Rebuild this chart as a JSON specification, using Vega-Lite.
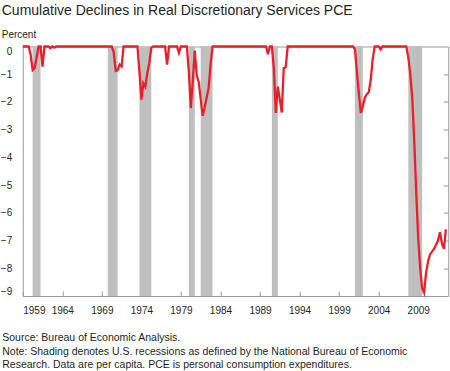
{
  "$schema": "https://vega.github.io/schema/vega-lite/v6.json",
  "autosize": "none",
  "width": 425.5,
  "height": 249.5,
  "padding": {"left": 22.75, "top": 46.5, "right": 1.75, "bottom": 75},
  "background": "white",
  "config": {
    "font": "Liberation Sans",
    "view": {"stroke": "#999999", "strokeWidth": 1}
  },
  "title": {
    "text": "Cumulative Declines in Real Discretionary Services PCE",
    "subtitle": "Percent",
    "anchor": "start",
    "frame": "group",
    "dx": -21,
    "offset": 2,
    "fontSize": 14,
    "fontWeight": "normal",
    "color": "#231f20",
    "subtitleFontSize": 10,
    "subtitleColor": "#231f20",
    "subtitlePadding": 12
  },
  "datasets": {
    "rec": [
      {"s": 1960.25, "e": 1961.25},
      {"s": 1969.75, "e": 1971.0},
      {"s": 1973.75, "e": 1975.25},
      {"s": 1980.0, "e": 1980.75},
      {"s": 1981.5, "e": 1983.0},
      {"s": 1990.5, "e": 1991.25},
      {"s": 2001.0, "e": 2002.0},
      {"s": 2007.75, "e": 2009.5}
    ],
    "pce": [
      {"t": 1959.0, "v": 0}, {"t": 1959.25, "v": 0}, {"t": 1959.5, "v": 0}, {"t": 1959.75, "v": 0},
      {"t": 1960.0, "v": -0.3}, {"t": 1960.25, "v": -0.85}, {"t": 1960.5, "v": -0.78}, {"t": 1960.75, "v": -0.4},
      {"t": 1961.0, "v": 0}, {"t": 1961.25, "v": 0}, {"t": 1961.5, "v": -0.73}, {"t": 1961.75, "v": 0},
      {"t": 1962.0, "v": 0}, {"t": 1962.25, "v": 0}, {"t": 1962.5, "v": -0.06}, {"t": 1962.75, "v": 0},
      {"t": 1963.0, "v": -0.04}, {"t": 1963.25, "v": 0}, {"t": 1963.5, "v": 0}, {"t": 1963.75, "v": 0},
      {"t": 1964.0, "v": 0}, {"t": 1964.25, "v": 0}, {"t": 1964.5, "v": 0}, {"t": 1964.75, "v": 0},
      {"t": 1965.0, "v": 0}, {"t": 1965.25, "v": 0}, {"t": 1965.5, "v": 0}, {"t": 1965.75, "v": 0},
      {"t": 1966.0, "v": 0}, {"t": 1966.25, "v": 0}, {"t": 1966.5, "v": 0}, {"t": 1966.75, "v": 0},
      {"t": 1967.0, "v": 0}, {"t": 1967.25, "v": 0}, {"t": 1967.5, "v": 0}, {"t": 1967.75, "v": 0},
      {"t": 1968.0, "v": 0}, {"t": 1968.25, "v": 0}, {"t": 1968.5, "v": 0}, {"t": 1968.75, "v": 0},
      {"t": 1969.0, "v": 0}, {"t": 1969.25, "v": 0}, {"t": 1969.5, "v": 0}, {"t": 1969.75, "v": 0},
      {"t": 1970.0, "v": 0}, {"t": 1970.25, "v": 0}, {"t": 1970.5, "v": -0.2}, {"t": 1970.75, "v": -0.88},
      {"t": 1971.0, "v": -0.85}, {"t": 1971.25, "v": -0.65}, {"t": 1971.5, "v": -0.72}, {"t": 1971.75, "v": 0},
      {"t": 1972.0, "v": 0}, {"t": 1972.25, "v": 0}, {"t": 1972.5, "v": 0}, {"t": 1972.75, "v": 0},
      {"t": 1973.0, "v": 0}, {"t": 1973.25, "v": 0}, {"t": 1973.5, "v": 0}, {"t": 1973.75, "v": -0.9},
      {"t": 1974.0, "v": -1.92}, {"t": 1974.25, "v": -1.32}, {"t": 1974.5, "v": -1.45}, {"t": 1974.75, "v": -0.95},
      {"t": 1975.0, "v": -0.6}, {"t": 1975.25, "v": -0.05}, {"t": 1975.5, "v": 0}, {"t": 1975.75, "v": 0},
      {"t": 1976.0, "v": 0}, {"t": 1976.25, "v": 0}, {"t": 1976.5, "v": 0}, {"t": 1976.75, "v": 0},
      {"t": 1977.0, "v": 0}, {"t": 1977.25, "v": -0.65}, {"t": 1977.5, "v": 0}, {"t": 1977.75, "v": 0},
      {"t": 1978.0, "v": 0}, {"t": 1978.25, "v": 0}, {"t": 1978.5, "v": 0}, {"t": 1978.75, "v": -0.23},
      {"t": 1979.0, "v": 0}, {"t": 1979.25, "v": 0}, {"t": 1979.5, "v": 0}, {"t": 1979.75, "v": 0},
      {"t": 1980.0, "v": -0.9}, {"t": 1980.25, "v": -2.22}, {"t": 1980.5, "v": -1.25}, {"t": 1980.75, "v": -0.15},
      {"t": 1981.0, "v": -1.05}, {"t": 1981.25, "v": -1.28}, {"t": 1981.5, "v": -1.9}, {"t": 1981.75, "v": -2.5},
      {"t": 1982.0, "v": -2.2}, {"t": 1982.25, "v": -1.85}, {"t": 1982.5, "v": -1.5}, {"t": 1982.75, "v": -0.65},
      {"t": 1983.0, "v": 0}, {"t": 1983.25, "v": 0}, {"t": 1983.5, "v": 0}, {"t": 1983.75, "v": 0},
      {"t": 1984.0, "v": 0}, {"t": 1984.25, "v": 0}, {"t": 1984.5, "v": 0}, {"t": 1984.75, "v": 0},
      {"t": 1985.0, "v": 0}, {"t": 1985.25, "v": 0}, {"t": 1985.5, "v": 0}, {"t": 1985.75, "v": 0},
      {"t": 1986.0, "v": 0}, {"t": 1986.25, "v": 0}, {"t": 1986.5, "v": 0}, {"t": 1986.75, "v": 0},
      {"t": 1987.0, "v": 0}, {"t": 1987.25, "v": 0}, {"t": 1987.5, "v": 0}, {"t": 1987.75, "v": 0},
      {"t": 1988.0, "v": 0}, {"t": 1988.25, "v": 0}, {"t": 1988.5, "v": 0}, {"t": 1988.75, "v": 0},
      {"t": 1989.0, "v": 0}, {"t": 1989.25, "v": 0}, {"t": 1989.5, "v": 0}, {"t": 1989.75, "v": 0},
      {"t": 1990.0, "v": -0.28}, {"t": 1990.25, "v": 0}, {"t": 1990.5, "v": 0}, {"t": 1990.75, "v": -0.8},
      {"t": 1991.0, "v": -2.4}, {"t": 1991.25, "v": -1.45}, {"t": 1991.5, "v": -1.9}, {"t": 1991.75, "v": -2.38},
      {"t": 1992.0, "v": -0.78}, {"t": 1992.25, "v": -0.75}, {"t": 1992.5, "v": 0}, {"t": 1992.75, "v": 0},
      {"t": 1993.0, "v": 0}, {"t": 1993.25, "v": 0}, {"t": 1993.5, "v": 0}, {"t": 1993.75, "v": 0},
      {"t": 1994.0, "v": 0}, {"t": 1994.25, "v": 0}, {"t": 1994.5, "v": 0}, {"t": 1994.75, "v": 0},
      {"t": 1995.0, "v": 0}, {"t": 1995.25, "v": 0}, {"t": 1995.5, "v": 0}, {"t": 1995.75, "v": 0},
      {"t": 1996.0, "v": 0}, {"t": 1996.25, "v": 0}, {"t": 1996.5, "v": 0}, {"t": 1996.75, "v": 0},
      {"t": 1997.0, "v": 0}, {"t": 1997.25, "v": 0}, {"t": 1997.5, "v": 0}, {"t": 1997.75, "v": 0},
      {"t": 1998.0, "v": 0}, {"t": 1998.25, "v": 0}, {"t": 1998.5, "v": 0}, {"t": 1998.75, "v": 0},
      {"t": 1999.0, "v": 0}, {"t": 1999.25, "v": 0}, {"t": 1999.5, "v": 0}, {"t": 1999.75, "v": 0},
      {"t": 2000.0, "v": 0}, {"t": 2000.25, "v": 0}, {"t": 2000.5, "v": 0}, {"t": 2000.75, "v": 0},
      {"t": 2001.0, "v": -0.1}, {"t": 2001.25, "v": -0.9}, {"t": 2001.5, "v": -1.7}, {"t": 2001.75, "v": -2.4},
      {"t": 2002.0, "v": -2.15}, {"t": 2002.25, "v": -1.85}, {"t": 2002.5, "v": -1.72}, {"t": 2002.75, "v": -1.65},
      {"t": 2003.0, "v": -1.2}, {"t": 2003.25, "v": -0.45}, {"t": 2003.5, "v": 0}, {"t": 2003.75, "v": 0},
      {"t": 2004.0, "v": 0}, {"t": 2004.25, "v": -0.1}, {"t": 2004.5, "v": 0}, {"t": 2004.75, "v": 0},
      {"t": 2005.0, "v": 0}, {"t": 2005.25, "v": 0}, {"t": 2005.5, "v": 0}, {"t": 2005.75, "v": 0},
      {"t": 2006.0, "v": 0}, {"t": 2006.25, "v": 0}, {"t": 2006.5, "v": 0}, {"t": 2006.75, "v": 0},
      {"t": 2007.0, "v": 0}, {"t": 2007.25, "v": 0}, {"t": 2007.5, "v": 0}, {"t": 2007.75, "v": -0.4},
      {"t": 2008.0, "v": -1.0}, {"t": 2008.25, "v": -1.85}, {"t": 2008.5, "v": -3.4}, {"t": 2008.75, "v": -5.25},
      {"t": 2009.0, "v": -6.9}, {"t": 2009.25, "v": -8.0}, {"t": 2009.5, "v": -8.72}, {"t": 2009.75, "v": -8.88},
      {"t": 2010.0, "v": -8.15}, {"t": 2010.25, "v": -7.75}, {"t": 2010.5, "v": -7.5}, {"t": 2010.75, "v": -7.4},
      {"t": 2011.0, "v": -7.3}, {"t": 2011.25, "v": -7.15}, {"t": 2011.5, "v": -7.0}, {"t": 2011.75, "v": -6.7},
      {"t": 2012.0, "v": -7.1}, {"t": 2012.25, "v": -7.3}, {"t": 2012.5, "v": -6.6}
    ]
  },
  "layer": [
    {
      "data": {"name": "rec"},
      "mark": {"type": "rect", "color": "#bfbfbf"},
      "encoding": {
        "x": {
          "field": "s",
          "type": "quantitative",
          "scale": {"domain": [1959, 2012.8], "nice": false, "zero": false},
          "axis": {
            "values": [1959, 1964, 1969, 1974, 1979, 1984, 1989, 1994, 1999, 2004, 2009],
            "format": "d",
            "grid": false,
            "domain": false,
            "tickSize": -5,
            "tickColor": "#999999",
            "labelFontSize": 10,
            "labelColor": "#231f20",
            "labelPadding": 14,
            "title": [
              "Source: Bureau of Economic Analysis.",
              "Note: Shading denotes U.S. recessions as defined by the National Bureau of Economic",
              "Research. Data are per capita. PCE is personal consumption expenditures."
            ],
            "titleFontSize": 10.5,
            "titleFontWeight": "normal",
            "titleColor": "#231f20",
            "titleAlign": "left",
            "titleBaseline": "alphabetic",
            "titleLineHeight": 13.7,
            "titleX": -21,
            "titleY": 44.5
          }
        },
        "x2": {"field": "e"}
      }
    },
    {
      "data": {"name": "pce"},
      "mark": {"type": "line", "color": "#e8202a", "strokeWidth": 2.3},
      "encoding": {
        "x": {"field": "t", "type": "quantitative"},
        "y": {
          "field": "v",
          "type": "quantitative",
          "scale": {"domain": [-9, 0], "nice": false, "zero": false},
          "axis": {
            "orient": "left",
            "values": [0, -1, -2, -3, -4, -5, -6, -7, -8, -9],
            "grid": false,
            "domain": false,
            "ticks": false,
            "labelFlush": true,
            "labelPadding": 11,
            "labelFontSize": 10,
            "labelColor": "#231f20",
            "title": null
          }
        }
      }
    },
    {
      "data": {"name": "pce"},
      "mark": {"type": "line", "opacity": 0},
      "encoding": {
        "x": {"field": "t", "type": "quantitative"},
        "y": {
          "field": "v",
          "type": "quantitative",
          "axis": {
            "orient": "right",
            "values": [-1, -2, -3, -4, -5, -6, -7, -8],
            "grid": false,
            "domain": false,
            "labels": false,
            "tickSize": -5,
            "tickColor": "#999999",
            "title": null
          }
        }
      }
    }
  ],
  "resolve": {"axis": {"y": "independent"}}
}
